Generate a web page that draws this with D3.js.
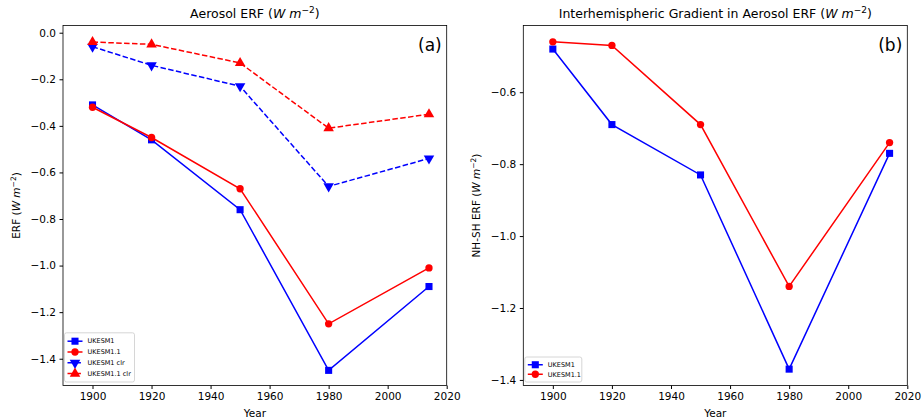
<!DOCTYPE html>
<html>
<head>
<meta charset="utf-8">
<script src="https://cdn.jsdelivr.net/npm/d3@7"></script>
<style>
  body { margin: 0; background: #fff; }
  text { font-family: 'DejaVu Sans', sans-serif; fill: #000; }
</style>
</head>
<body>
<svg width="922" height="420"></svg>
<script>
const years = [1900, 1920, 1950, 1980, 2014]
const xTicks = [1900, 1920, 1940, 1960, 1980, 2000, 2020]

// panel (a): aerosol ERF
const ukesm1 = [-0.31, -0.46, -0.76, -1.45, -1.09]
const ukesm11 = [-0.32, -0.45, -0.67, -1.25, -1.01]
const ukesm1Clr = [-0.06, -0.14, -0.23, -0.66, -0.54]
const ukesm11Clr = [-0.04, -0.05, -0.13, -0.41, -0.35]
const yTicksA = [0.0, -0.2, -0.4, -0.6, -0.8, -1.0, -1.2, -1.4]

// panel (b): NH-SH gradient
const gradUkesm1 = [-0.48, -0.69, -0.83, -1.37, -0.77]
const gradUkesm11 = [-0.46, -0.47, -0.69, -1.14, -0.74]
const yTicksB = [-0.6, -0.8, -1.0, -1.2, -1.4]

const svg = d3.select('svg')
const plotTop = 25.5, plotBottom = 385.5

const markers = {
  square: { type: d3.symbolSquare, size: 50, rot: 0 },
  circle: { type: d3.symbolCircle, size: 42, rot: 0 },
  down: { type: d3.symbolTriangle, size: 48, rot: 180 },
  up: { type: d3.symbolTriangle, size: 48, rot: 0 },
}

function panel({ left, right, yDomain, yTicks, title, ylabel, letter, series, legend }) {
  const g = svg.append('g')
  const x = d3.scaleLinear().domain([1890, 2020]).range([left, right])
  const y = d3.scaleLinear().domain(yDomain).range([plotBottom, plotTop])

  g.append('g')
    .attr('transform', `translate(0,${ plotBottom })`)
    .call(d3.axisBottom(x).tickValues(xTicks).tickFormat(d3.format('d')).tickSize(3.5).tickPadding(3.5))
    .call(a => a.select('.domain').remove())
    .call(a => a.selectAll('text').attr('font-size', 10.5).style('font-family', 'DejaVu Sans'))

  g.append('g')
    .attr('transform', `translate(${ left },0)`)
    .call(d3.axisLeft(y).tickValues(yTicks).tickFormat(d => d3.format('.1f')(d).replace('-', '\u2212')).tickSize(3.5).tickPadding(3.5))
    .call(a => a.select('.domain').remove())
    .call(a => a.selectAll('text').attr('font-size', 10.5).style('font-family', 'DejaVu Sans'))

  const lineGen = d3.line().x((d, i) => x(years[i])).y(d => y(d))

  series.forEach(s => {
    g.append('path')
      .attr('d', lineGen(s.values))
      .attr('fill', 'none')
      .attr('stroke', s.color)
      .attr('stroke-width', 1.5)
      .attr('stroke-dasharray', s.dashed ? '5.5,2.4' : null)
    const m = markers[s.marker]
    g.selectAll(null).data(s.values).join('path')
      .attr('transform', (d, i) => `translate(${ x(years[i]) },${ y(d) }) rotate(${ m.rot })`)
      .attr('d', d3.symbol().type(m.type).size(m.size))
      .attr('fill', s.color)
  })

  // frame
  g.append('rect')
    .attr('x', left).attr('y', plotTop)
    .attr('width', right - left).attr('height', plotBottom - plotTop)
    .attr('fill', 'none').attr('stroke', '#000').attr('stroke-width', 0.8)

  // title with superscript unit
  const t = g.append('text')
    .attr('x', (left + right) / 2).attr('y', 18)
    .attr('text-anchor', 'middle').attr('font-size', 12.5)
  t.append('tspan').text(title + ' (')
  t.append('tspan').attr('font-style', 'italic').text('W m')
  t.append('tspan').attr('font-size', 9).attr('dy', -5).text('\u22122')
  t.append('tspan').attr('dy', 5).text(')')

  const yl = g.append('text')
    .attr('transform', `translate(${ left - 43 },${ (plotTop + plotBottom) / 2 }) rotate(-90)`)
    .attr('text-anchor', 'middle').attr('font-size', 10.5)
  yl.append('tspan').text(ylabel + ' (')
  yl.append('tspan').attr('font-style', 'italic').text('W m')
  yl.append('tspan').attr('font-size', 7.5).attr('dy', -4).text('\u22122')
  yl.append('tspan').attr('dy', 4).text(')')

  g.append('text')
    .attr('x', (left + right) / 2).attr('y', 417)
    .attr('text-anchor', 'middle').attr('font-size', 10.5)
    .text('Year')

  g.append('text')
    .attr('x', right - 5).attr('y', 51)
    .attr('text-anchor', 'end').attr('font-size', 17)
    .text(letter)

  // legend
  const lh = legend.rowH
  const boxH = series.length * lh + 6
  const lg = g.append('g').attr('transform', `translate(${ left + 1.5 },${ plotBottom - 3.5 - boxH })`)
  lg.append('rect')
    .attr('width', legend.w).attr('height', boxH)
    .attr('rx', 2).attr('fill', '#fff').attr('stroke', '#ccc').attr('stroke-width', 0.8)
  series.forEach((s, i) => {
    const cy = 3 + lh * (i + 0.5)
    lg.append('line')
      .attr('x1', 3).attr('x2', 18).attr('y1', cy).attr('y2', cy)
      .attr('stroke', s.color).attr('stroke-width', 1.5)
      .attr('stroke-dasharray', s.dashed ? '5.5,2.4' : null)
    const m = markers[s.marker]
    lg.append('path')
      .attr('transform', `translate(10.5,${ cy }) rotate(${ m.rot })`)
      .attr('d', d3.symbol().type(m.type).size(m.size))
      .attr('fill', s.color)
    lg.append('text')
      .attr('x', 23).attr('y', cy + 2.3)
      .attr('font-size', 6.5)
      .text(s.name)
  })
}

panel({
  left: 63, right: 446.7,
  yDomain: [-1.515, 0.031], yTicks: yTicksA,
  title: 'Aerosol ERF', ylabel: 'ERF', letter: '(a)',
  legend: { w: 70, rowH: 10.8 },
  series: [
    { name: 'UKESM1', values: ukesm1, color: '#0000ff', marker: 'square' },
    { name: 'UKESM1.1', values: ukesm11, color: '#ff0000', marker: 'circle' },
    { name: 'UKESM1 clr', values: ukesm1Clr, color: '#0000ff', marker: 'down', dashed: true },
    { name: 'UKESM1.1 clr', values: ukesm11Clr, color: '#ff0000', marker: 'up', dashed: true },
  ],
})

panel({
  left: 523.3, right: 907.3,
  yDomain: [-1.4155, -0.4145], yTicks: yTicksB,
  title: 'Interhemispheric Gradient in Aerosol ERF', ylabel: 'NH-SH ERF', letter: '(b)',
  legend: { w: 57, rowH: 9.5 },
  series: [
    { name: 'UKESM1', values: gradUkesm1, color: '#0000ff', marker: 'square' },
    { name: 'UKESM1.1', values: gradUkesm11, color: '#ff0000', marker: 'circle' },
  ],
})
</script>
</body>
</html>
